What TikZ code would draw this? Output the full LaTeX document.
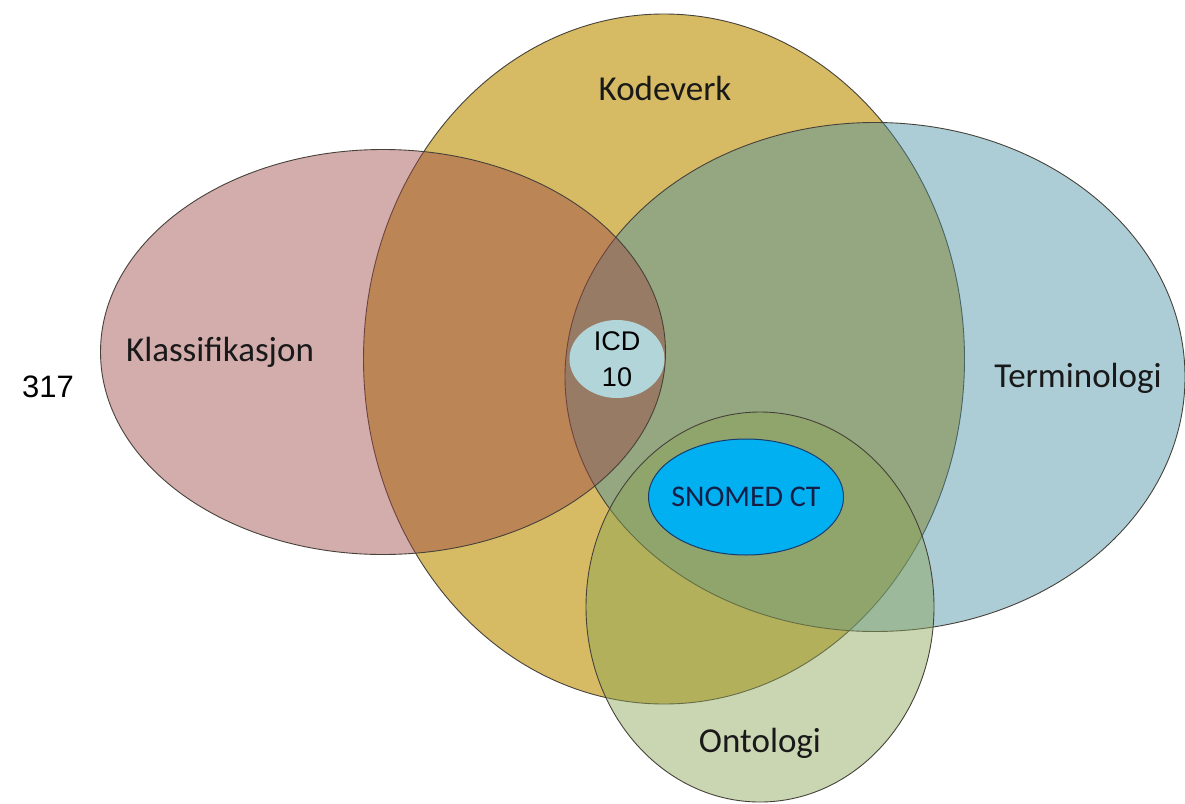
\documentclass[tikz,border=0pt]{standalone}
\usepackage{fontspec}
\setmainfont{Carlito}
\newfontfamily\arialfont{Liberation Sans}
\usetikzlibrary{shapes.geometric}
\definecolor{KodeGold}{RGB}{214,186,100}
\definecolor{TermBlue}{RGB}{71,144,164}
\definecolor{KlassRose}{RGB}{157,70,70}
\definecolor{OntoGreen}{RGB}{137,164,84}
\definecolor{IcdBlue}{RGB}{178,213,218}
\definecolor{SnomedBlue}{RGB}{0,176,240}
\definecolor{SnomedEdge}{RGB}{25,60,110}
\definecolor{SnomedText}{RGB}{20,30,70}
\definecolor{EdgeGrey}{RGB}{70,66,58}
\tikzset{
  set/.style={ellipse,draw=EdgeGrey,line width=0.9pt,inner sep=0pt,outer sep=0pt},
  softset/.style={set,fill opacity=0.45},
  setlabel/.style={font=\fontsize{35}{40}\selectfont,text=black!90,inner sep=0pt},
  core/.style={ellipse,inner sep=0pt,outer sep=0pt,align=center}
}
\begin{document}
\begin{tikzpicture}[x=1pt,y=-1pt]
  \useasboundingbox (0,0) rectangle (1185,803);
  \node[set,fill=KodeGold,minimum width=601pt,minimum height=690pt] (kodeverk) at (664,359) {};
  \node[softset,fill=TermBlue,minimum width=620pt,minimum height=509pt] (terminologi) at (875,377) {};
  \node[softset,fill=KlassRose,minimum width=565pt,minimum height=405pt] (klassifikasjon) at (383,352) {};
  \node[softset,fill=OntoGreen,minimum width=348pt,minimum height=390pt] (ontologi) at (760,607) {};
  \node[core,fill=IcdBlue,minimum width=95pt,minimum height=78pt] (icd) at (617,359) {};
  \node[core,fill=SnomedBlue,draw=SnomedEdge,line width=1pt,minimum width=195pt,minimum height=116pt] (snomed) at (746,497) {};
  \node[setlabel] (kodeverklbl) at (665,88) {Kodeverk};
  \node[setlabel] (klasslbl) at (220,352) {Klassifikasjon};
  \node[setlabel] (termlbl) at (1078,378) {Terminologi};
  \node[setlabel] (ontolbl) at (760,743) {Ontologi};
  \node[font=\arialfont\fontsize{27}{36}\selectfont,align=center,inner sep=0pt] (icdlbl) at (icd) {ICD\\10};
  \node[font=\fontsize{30}{36}\selectfont,text=SnomedText,inner sep=0pt] (snomedlbl) at (snomed) {SNOMED CT};
  \node[font=\arialfont\fontsize{31}{36}\selectfont,inner sep=0pt] (pagenum) at (48,387) {317};
\end{tikzpicture}
\end{document}
